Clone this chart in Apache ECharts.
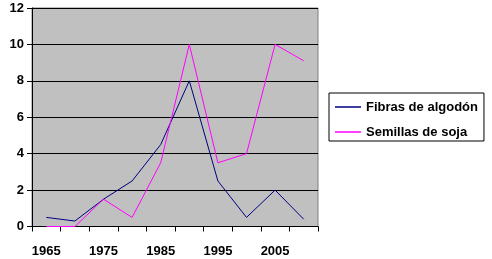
<!DOCTYPE html>
<html>
<head>
<meta charset="utf-8">
<script src="https://cdn.jsdelivr.net/npm/echarts@6/dist/echarts.min.js"></script>
<style>html,body{margin:0;padding:0;background:#fff;}#c{width:492px;height:259px;}</style>
</head>
<body>
<div id="c"></div>
<script>
const years = ['1965','1970','1975','1980','1985','1990','1995','2000','2005','2010'];
const fibrasAlgodon = [0.5, 0.3, 1.5, 2.5, 4.5, 8.0, 2.5, 0.5, 2.0, 0.4];
const semillasSoja = [0, 0, 1.5, 0.5, 3.5, 10.0, 3.5, 4.0, 10.0, 9.1];
const seriesNames = ['Fibras de algodón', 'Semillas de soja'];

const font = '"Liberation Sans", Arial, sans-serif';
const chart = echarts.init(document.getElementById('c'), null, {renderer: 'canvas'});
chart.setOption({
  animation: false,
  backgroundColor: '#fff',
  grid: {left: 32, top: 8, right: 174, bottom: 32.5, show: true, backgroundColor: '#c0c0c0', borderColor: '#808080', borderWidth: 1},
  legend: {
    orient: 'vertical', left: 329, top: 93,
    backgroundColor: '#fff', borderColor: '#000', borderWidth: 1,
    padding: [7, 6, 2, 6], itemGap: 11,
    itemWidth: 26, itemHeight: 1.5, icon: 'rect',
    textStyle: {fontFamily: font, fontWeight: 'bold', fontSize: 13, color: '#000', lineHeight: 14},
    data: seriesNames
  },
  xAxis: {
    type: 'category', data: years, boundaryGap: true,
    axisLine: {lineStyle: {color: '#000', width: 1}},
    axisTick: {show: true, interval: 0, length: 5, lineStyle: {color: '#000'}},
    axisLabel: {interval: 1, margin: 18, fontFamily: font, fontWeight: 'bold', fontSize: 13, color: '#000'},
    splitLine: {show: false}
  },
  yAxis: {
    type: 'value', min: 0, max: 12, interval: 2,
    axisLine: {show: true, lineStyle: {color: '#000', width: 1}},
    axisTick: {show: true, length: 5, lineStyle: {color: '#000'}},
    axisLabel: {margin: 8, fontFamily: font, fontWeight: 'bold', fontSize: 13, color: '#000'},
    splitLine: {show: true, lineStyle: {color: '#000', width: 1}}
  },
  series: [
    {name: seriesNames[0], type: 'line', data: fibrasAlgodon, showSymbol: false, symbol: 'none', lineStyle: {color: '#000080', width: 1}, itemStyle: {color: '#000080'}},
    {name: seriesNames[1], type: 'line', data: semillasSoja, showSymbol: false, symbol: 'none', lineStyle: {color: '#ff00ff', width: 1}, itemStyle: {color: '#ff00ff'}}
  ]
});
</script>
</body>
</html>
